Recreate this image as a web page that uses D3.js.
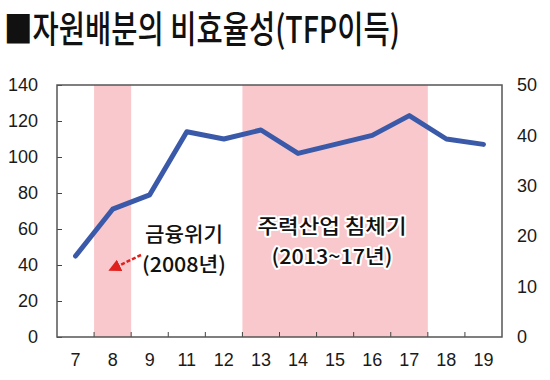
<!DOCTYPE html>
<html>
<head>
<meta charset="utf-8">
<script src="https://cdn.jsdelivr.net/npm/d3@7"></script>
<style>
  body { margin: 0; background: #fff; }
  svg { display: block; }
</style>
</head>
<body>
<svg id="chart" width="550" height="380"></svg>
<script>
// data
var years = ["7", "8", "9", "11", "12", "13", "14", "15", "16", "17", "18", "19"];
var tfpGain = [45, 71, 79, 114, 110, 115, 102, 107, 112, 123, 110, 107];
var leftTicks = [0, 20, 40, 60, 80, 100, 120, 140];
var rightTicks = [0, 10, 20, 30, 40, 50];
var crisisYears = ["8"];
var slumpYears = ["13", "14", "15", "16", "17"];

var margin = {top: 85, right: 48, bottom: 43, left: 57},
    width = 550 - margin.left - margin.right,
    height = 380 - margin.top - margin.bottom;

var svg = d3.select("#chart");
var fontNum = "'Liberation Sans', Arial, sans-serif";
var fontKr = "'Noto Sans CJK KR', sans-serif";

// title
svg.append("text")
    .attr("x", 4)
    .attr("y", 43)
    .attr("font-family", fontKr)
    .attr("font-size", 37)
    .attr("font-weight", 500)
    .attr("textLength", 396)
    .attr("lengthAdjust", "spacingAndGlyphs")
    .attr("fill", "#111")
    .text("■자원배분의 비효율성(TFP이득)");

var g = svg.append("g")
    .attr("transform", "translate(" + margin.left + "," + margin.top + ")");

var x = d3.scaleBand()
    .domain(years)
    .range([0, width])
    .padding(0);

var y = d3.scaleLinear()
    .domain([0, 140])
    .range([height, 0]);

var y2 = d3.scaleLinear()
    .domain([0, 50])
    .range([height, 0]);

// shaded periods
function shade(list) {
    var x0 = x(list[0]);
    var x1 = x(list[list.length - 1]) + x.bandwidth();
    g.append("rect")
        .attr("x", x0)
        .attr("y", 0)
        .attr("width", x1 - x0)
        .attr("height", height)
        .attr("fill", "#f9c8cc");
}
shade(crisisYears);
shade(slumpYears);

// left axis
var leftAxis = g.append("g")
    .call(d3.axisLeft(y).tickValues(leftTicks).tickSize(-5).tickPadding(19));
leftAxis.select(".domain").remove();
leftAxis.selectAll("line").attr("stroke", "#444");
leftAxis.selectAll("text")
    .attr("font-family", fontNum)
    .attr("font-size", 18)
    .attr("fill", "#1a1a1a");

// right axis
var rightAxis = g.append("g")
    .attr("transform", "translate(" + width + ",0)")
    .call(d3.axisRight(y2).tickValues(rightTicks).tickSize(0).tickPadding(15));
rightAxis.select(".domain").remove();
rightAxis.selectAll("text")
    .attr("font-family", fontNum)
    .attr("font-size", 18)
    .attr("fill", "#1a1a1a");

// bottom axis: labels at centres, ticks on band edges
var bottomAxis = g.append("g")
    .attr("transform", "translate(0," + height + ")")
    .call(d3.axisBottom(x).tickSize(0).tickPadding(16));
bottomAxis.select(".domain").remove();
bottomAxis.selectAll("text")
    .attr("font-family", fontNum)
    .attr("font-size", 18)
    .attr("fill", "#1a1a1a");

g.selectAll(".xtick")
    .data(years.slice(1))
    .enter().append("line")
    .attr("class", "xtick")
    .attr("x1", function (d) { return x(d); })
    .attr("x2", function (d) { return x(d); })
    .attr("y1", height)
    .attr("y2", height - 5)
    .attr("stroke", "#444");

// frame
g.append("rect")
    .attr("x", 0)
    .attr("y", 0)
    .attr("width", width)
    .attr("height", height)
    .attr("fill", "none")
    .attr("stroke", "#555")
    .attr("stroke-width", 1.5);

// line
var line = d3.line()
    .x(function (d, i) { return x(years[i]) + x.bandwidth() / 2; })
    .y(function (d) { return y(d); });

g.append("path")
    .datum(tfpGain)
    .attr("d", line)
    .attr("fill", "none")
    .attr("stroke", "#3a5aa9")
    .attr("stroke-width", 5)
    .attr("stroke-linejoin", "round")
    .attr("stroke-linecap", "round");

// annotations, two lines each
function note(lines, cx, cy, widths) {
    lines.forEach(function (txt, i) {
        svg.append("text")
            .attr("x", cx - widths[i] / 2)
            .attr("y", cy + i * 30)
            .attr("font-family", fontKr)
            .attr("font-size", 20.5)
            .attr("font-weight", 500)
            .attr("textLength", widths[i])
            .attr("lengthAdjust", "spacingAndGlyphs")
            .attr("fill", "#111")
            .attr("stroke", "#fff")
            .attr("stroke-width", 4)
            .attr("stroke-linejoin", "round")
            .attr("paint-order", "stroke")
            .text(txt);
    });
}
note(["금융위기", "(2008년)"], 184, 242, [78, 84]);
note(["주력산업 침체기", "(2013~17년)"], 332, 234, [149, 121]);

// red arrow
svg.append("defs").append("marker")
    .attr("id", "head")
    .attr("viewBox", "0 0 10 10")
    .attr("refX", 5)
    .attr("refY", 5)
    .attr("markerWidth", 5)
    .attr("markerHeight", 5)
    .attr("orient", "auto")
    .append("path")
    .attr("d", "M0,0 L10,5 L0,10 z")
    .attr("fill", "#e0201c");

svg.append("line")
    .attr("x1", 141)
    .attr("y1", 255)
    .attr("x2", 114)
    .attr("y2", 268)
    .attr("stroke", "#e0201c")
    .attr("stroke-width", 2.5)
    .attr("stroke-dasharray", "4,2")
    .attr("marker-end", "url(#head)");
</script>
</body>
</html>
